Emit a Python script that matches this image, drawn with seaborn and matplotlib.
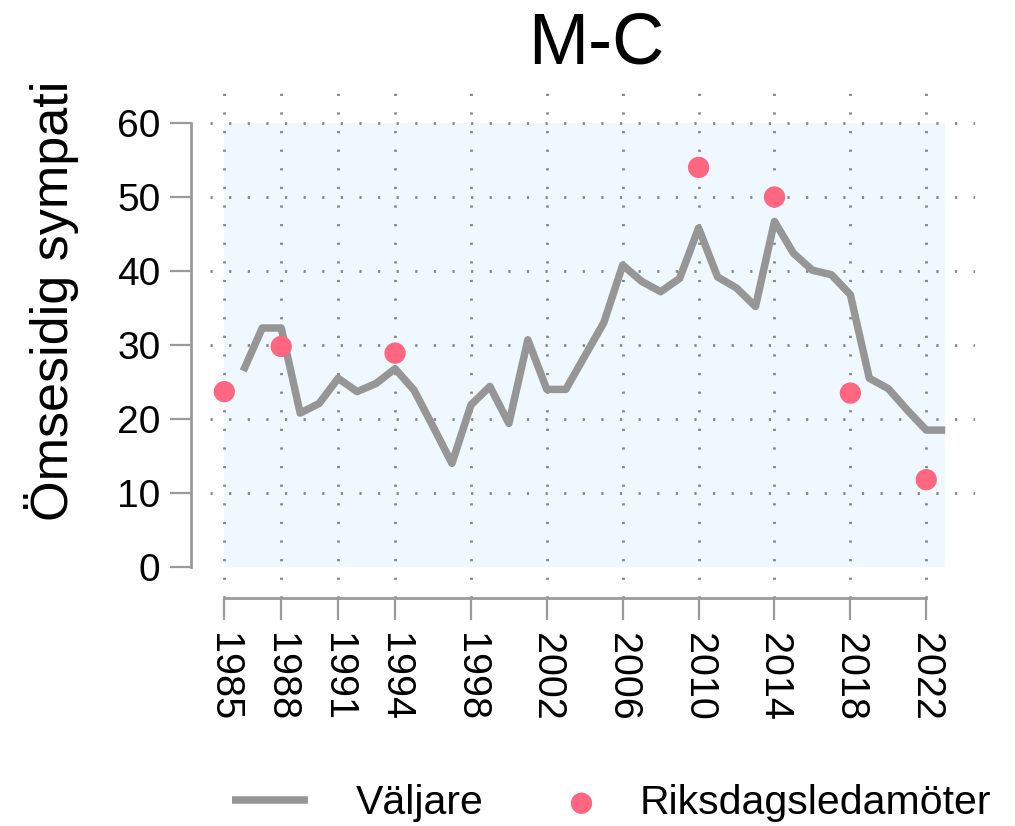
import matplotlib
matplotlib.use("Agg")
import matplotlib.pyplot as plt
import seaborn as sns
import numpy as np

# ---- data ----
voter_years = list(range(1986, 2024))
voter_values = [26.5, 32.3, 32.3, 20.8, 22.1, 25.5, 23.7, 24.8, 26.8, 23.9,
                19.0, 14.0, 21.9, 24.4, 19.4, 30.7, 24.0, 24.0, 28.5, 33.0,
                40.8, 38.6, 37.2, 39.0, 45.8, 39.2, 37.7, 35.2, 46.7, 42.4,
                40.1, 39.5, 36.8, 25.5, 24.1, 21.2, 18.5, 18.5]
mp_years = [1985, 1988, 1994, 2010, 2014, 2018, 2022]
mp_values = [23.7, 29.8, 28.9, 54.0, 50.0, 23.5, 11.8]
x_ticks = [1985, 1988, 1991, 1994, 1998, 2002, 2006, 2010, 2014, 2018, 2022]
y_ticks = [0, 10, 20, 30, 40, 50, 60]
title = "M-C"
ylabel = "Ömsesidig sympati"
series_names = ["Väljare", "Riksdagsledamöter"]

sns.set_style("white")
plt.rcParams['font.family'] = ['Liberation Sans', 'DejaVu Sans']
plt.rcParams['text.color'] = 'black'
plt.rcParams['axes.labelcolor'] = 'black'

LINE_C = "#969696"
DOT_C = "#ff6680"
AX_C = "#9a9a9a"
GRID_C = "#858585"
SHADE_C = "#f0f8ff"

W, H = 1015, 826
fig = plt.figure(figsize=(W / 100, H / 100), dpi=100)
ax = fig.add_axes([210 / W, 1 - 598 / H, (975 - 210) / W, (598 - 90) / H])

# shaded data region
x0 = min(min(voter_years), min(mp_years))
x1 = max(max(voter_years), max(mp_years))
ax.fill_between([x0, x1], y_ticks[0], y_ticks[-1], color=SHADE_C, lw=0, zorder=0.2)

sns.lineplot(x=voter_years, y=voter_values, ax=ax, color=LINE_C, linewidth=5.4,
             estimator=None, solid_capstyle='butt', zorder=2, legend=False)
sns.scatterplot(x=mp_years, y=mp_values, ax=ax, color=DOT_C, s=235,
                edgecolor='none', linewidth=0, zorder=3, legend=False)

ax.set_xlim(1984.246, 2024.57)
ax.set_ylim(-4.19, 64.46)
ax.set_xticks(x_ticks)
ax.set_xticklabels([str(t) for t in x_ticks], rotation=-90, ha='center', va='top')
ax.set_yticks(y_ticks)
ax.set_yticklabels([str(t) for t in y_ticks])
ax.set_xlabel("")
ax.set_ylabel("")
ax.set_facecolor("white")

for s in ["top", "right"]:
    ax.spines[s].set_visible(False)
ax.spines["left"].set_position(("outward", 13.7))
ax.spines["left"].set_bounds(y_ticks[0], y_ticks[-1])
ax.spines["bottom"].set_bounds(x_ticks[0], x_ticks[-1])
for s in ["left", "bottom"]:
    ax.spines[s].set_color(AX_C)
    ax.spines[s].set_linewidth(2.0)

ax.tick_params(axis='x', direction='out', length=16, width=1.6, color=AX_C,
               labelsize=28.5, pad=9, labelcolor='black', bottom=True)
ax.tick_params(axis='y', direction='out', length=15, width=1.6, color=AX_C,
               labelsize=28, pad=7, labelcolor='black', left=True)

ax.set_axisbelow(True)
ax.grid(True, which='major', axis='both', color=GRID_C, linewidth=2.0,
        linestyle=(0, (0.8, 5.9)))
for gl, t in zip(ax.yaxis.get_gridlines(), y_ticks):
    if t == 0:
        gl.set_visible(False)

fig.text(596 / W, 1 - 63 / H, title, ha='center', va='baseline', fontsize=52, color='black')
fig.text(52 / W, 1 - 301 / H, ylabel, ha='center', va='center', rotation=90,
         fontsize=37.5, color='black')

# legends
line_handle = ax.lines[0]
dot_handle = ax.collections[-1]
leg1 = fig.legend([line_handle], [series_names[0]], loc='center left',
                  bbox_to_anchor=(232 / W, 1 - 803 / H), frameon=False,
                  fontsize=29.5, handlelength=1.86, handletextpad=1.15,
                  borderpad=0, borderaxespad=0, labelcolor='black')
leg2 = fig.legend([dot_handle], [series_names[1]], loc='center left',
                  bbox_to_anchor=(561 / W, 1 - 803 / H), frameon=False,
                  fontsize=29.5, handlelength=1.0, handletextpad=0.92,
                  borderpad=0, borderaxespad=0, scatterpoints=1, labelcolor='black')

fig.savefig("out.png", dpi=100)
